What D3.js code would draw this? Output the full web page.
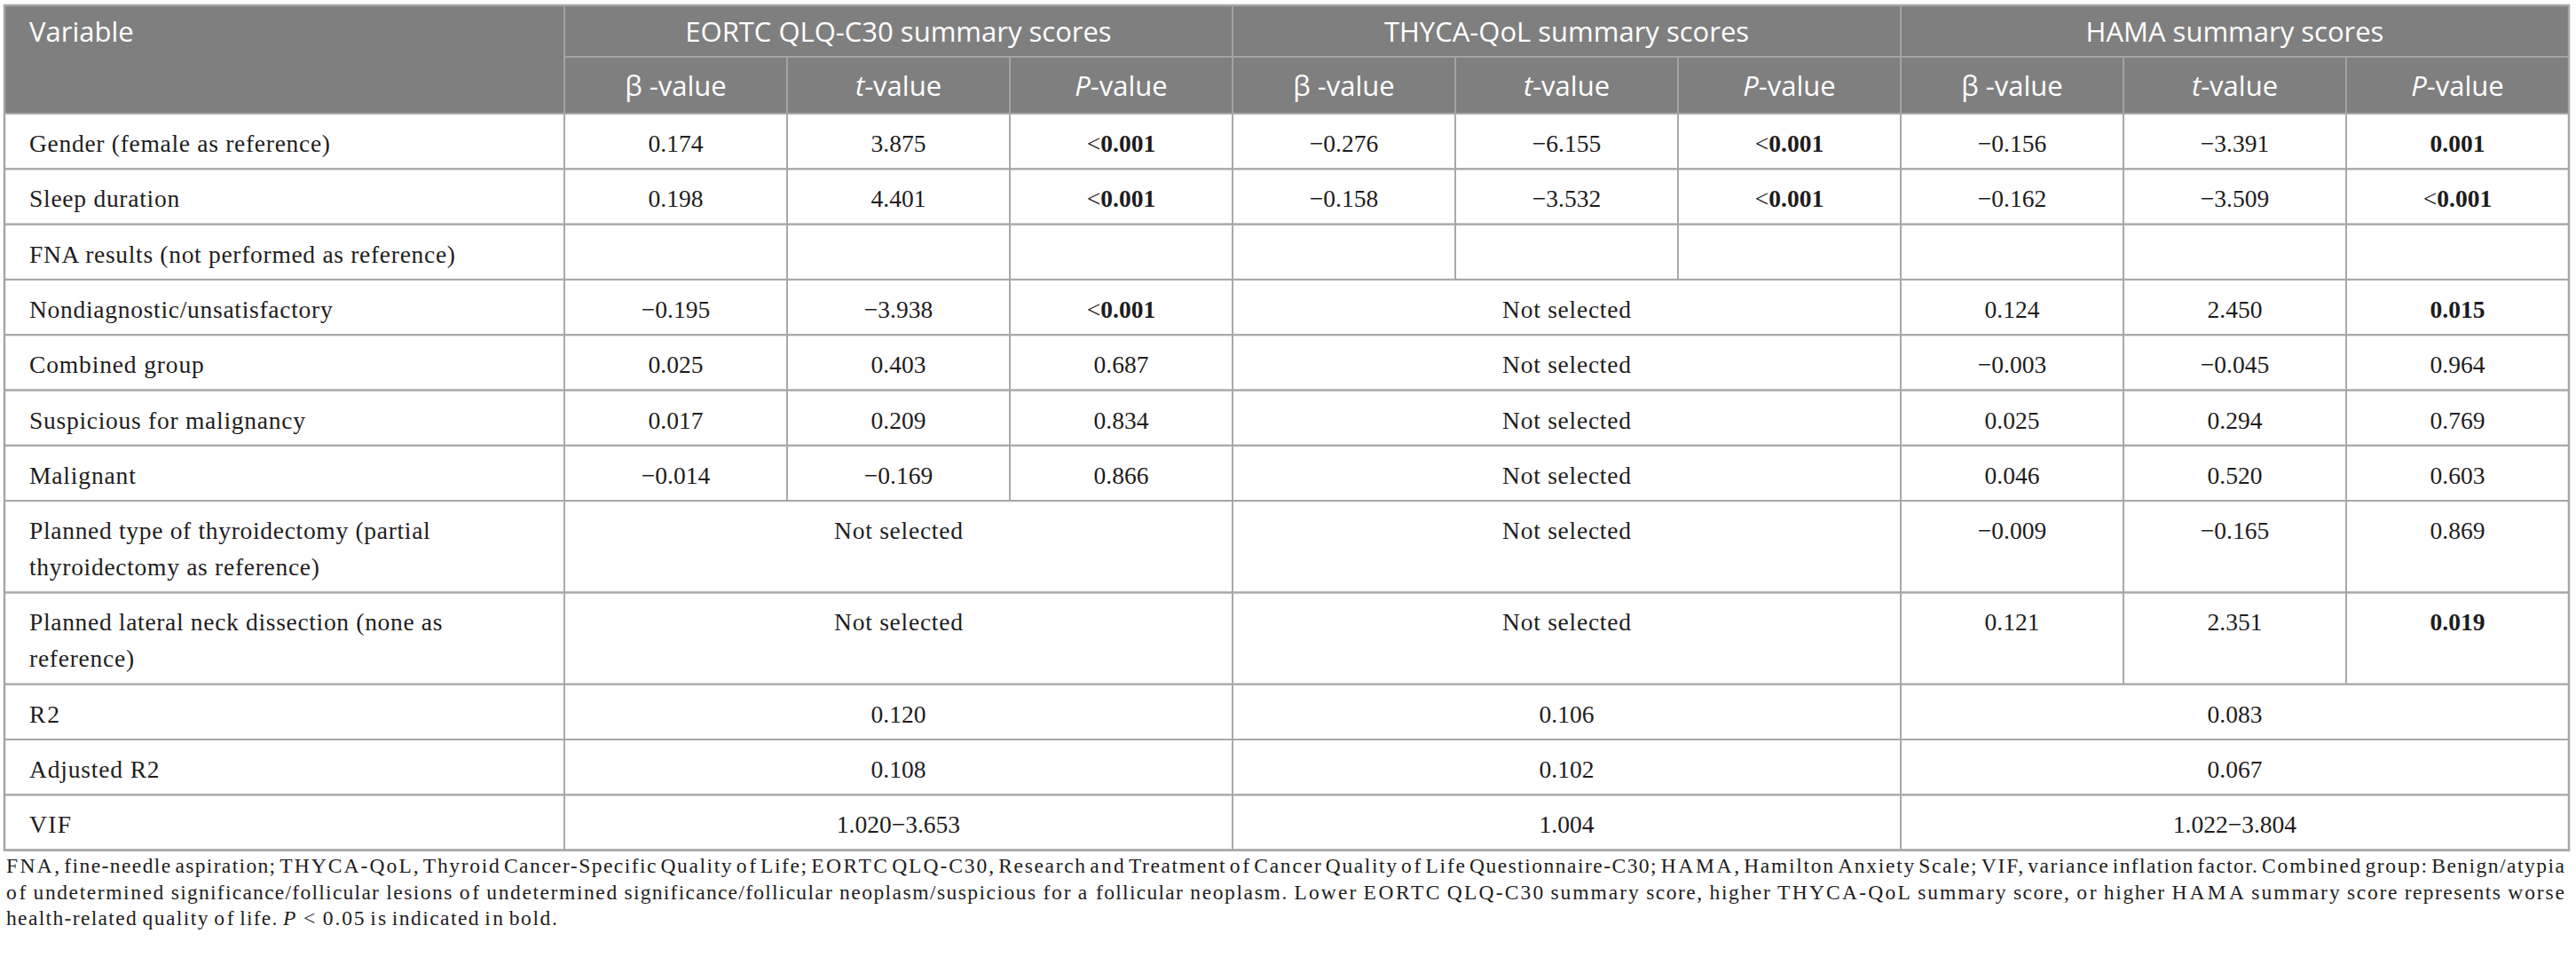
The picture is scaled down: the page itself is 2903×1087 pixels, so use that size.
<!DOCTYPE html>
<html>
<head>
<meta charset="utf-8">
<script src="https://cdn.jsdelivr.net/npm/d3@7"></script>
<style>
  body { margin: 0; background: #fff; }
  svg { display: block; }
</style>
</head>
<body>
<div id="chart"></div>
<script>
// ---- data ----
var groups = ["EORTC QLQ-C30 summary scores", "THYCA-QoL summary scores", "HAMA summary scores"];
// [italic prefix, rest]
var subHeads = [["", "\u03b2 -value"], ["t", "-value"], ["P", "-value"]];

var variables = [
  "Gender (female as reference)",
  "Sleep duration",
  "FNA results (not performed as reference)",
  "Nondiagnostic/unsatisfactory",
  "Combined group",
  "Suspicious for malignancy",
  "Malignant",
  "Planned type of thyroidectomy (partial\nthyroidectomy as reference)",
  "Planned lateral neck dissection (none as\nreference)",
  "R2",
  "Adjusted R2",
  "VIF"
];

// array = beta, t, P ; null = "Not selected" ; string = one value over the group
var eortc = [
  ["0.174", "3.875", "<0.001"],
  ["0.198", "4.401", "<0.001"],
  ["", "", ""],
  ["\u22120.195", "\u22123.938", "<0.001"],
  ["0.025", "0.403", "0.687"],
  ["0.017", "0.209", "0.834"],
  ["\u22120.014", "\u22120.169", "0.866"],
  null,
  null,
  "0.120",
  "0.108",
  "1.020\u22123.653"
];
var thyca = [
  ["\u22120.276", "\u22126.155", "<0.001"],
  ["\u22120.158", "\u22123.532", "<0.001"],
  ["", "", ""],
  null, null, null, null, null, null,
  "0.106",
  "0.102",
  "1.004"
];
var hama = [
  ["\u22120.156", "\u22123.391", "0.001"],
  ["\u22120.162", "\u22123.509", "<0.001"],
  ["", "", ""],
  ["0.124", "2.450", "0.015"],
  ["\u22120.003", "\u22120.045", "0.964"],
  ["0.025", "0.294", "0.769"],
  ["0.046", "0.520", "0.603"],
  ["\u22120.009", "\u22120.165", "0.869"],
  ["0.121", "2.351", "0.019"],
  "0.083",
  "0.067",
  "1.022\u22123.804"
];

var notSelected = "Not selected";
var captionLines = [
  "FNA, fine-needle aspiration; THYCA-QoL, Thyroid Cancer-Specific Quality of Life; EORTC QLQ-C30, Research and Treatment of Cancer Quality of Life Questionnaire-C30; HAMA, Hamilton Anxiety Scale; VIF, variance inflation factor. Combined group: Benign/atypia",
  "of undetermined significance/follicular lesions of undetermined significance/follicular neoplasm/suspicious for a follicular neoplasm. Lower EORTC QLQ-C30 summary score, higher THYCA-QoL summary score, or higher HAMA summary score represents worse",
  "health-related quality of life. *P* < 0.05 is indicated in bold."
];
var alpha = 0.05;

(function(){
  // ---- layout ----
  var W = 2903, H = 1087;
  var tLeft = 5, tRight = 2895, tTop = 6;
  var varColRight = 636;
  var head1 = 58, head2 = 64;
  var lineH = 41, rowBase = 62.3;
  var bodyFont = "Liberation Serif";
  var headFont = "Open Sans";
  var gridColor = "#a9a9a9";
  var ink = "#1e1c1d";
  var bodyWiden = 1.06;   // source face is a little wider than Times

  var svg = d3.select("#chart").append("svg")
    .attr("width", W).attr("height", H);

  function widen(sel, f) {
    sel.each(function(){
      var w = this.getComputedTextLength();
      if (w > 0) d3.select(this).attr("textLength", w * f).attr("lengthAdjust", "spacing");
    });
  }

  var x = d3.scaleBand().domain(d3.range(9)).range([varColRight, tRight]);
  var xg = d3.scaleBand().domain(d3.range(3)).range([varColRight, tRight]);

  var rowLines = variables.map(function(v){ return v.split("\n").length; });
  var rowH = rowLines.map(function(n){ return rowBase + (n - 1) * lineH; });
  var bodyTop = tTop + head1 + head2;
  var rowY = [bodyTop];
  rowH.forEach(function(h, i){ rowY.push(rowY[i] + h); });
  var bodyBottom = rowY[rowY.length - 1];

  // ---- header ----
  var hdr = svg.append("g");
  hdr.append("rect")
    .attr("x", tLeft).attr("y", tTop)
    .attr("width", tRight - tLeft).attr("height", head1 + head2)
    .attr("fill", "#7f7f7f");

  var hLine = "#a3a3a3";
  hdr.append("line")
    .attr("x1", varColRight).attr("x2", tRight)
    .attr("y1", tTop + head1).attr("y2", tTop + head1)
    .attr("stroke", hLine).attr("stroke-width", 2);
  hdr.selectAll("line.g").data([0, 1, 2]).enter().append("line")
    .attr("x1", function(d){ return xg(d); }).attr("x2", function(d){ return xg(d); })
    .attr("y1", tTop).attr("y2", bodyTop)
    .attr("stroke", hLine).attr("stroke-width", 2);
  hdr.selectAll("line.s").data(d3.range(9).filter(function(i){ return i % 3; })).enter().append("line")
    .attr("x1", function(d){ return x(d); }).attr("x2", function(d){ return x(d); })
    .attr("y1", tTop + head1).attr("y2", bodyTop)
    .attr("stroke", hLine).attr("stroke-width", 2);

  hdr.append("text")
    .attr("x", 33).attr("y", tTop + 41)
    .attr("font-family", headFont).attr("font-size", 31).attr("fill", "#fff")
    .text("Variable");

  hdr.selectAll("text.grp").data(groups).enter().append("text")
    .attr("x", function(d, i){ return xg(i) + xg.bandwidth() / 2; })
    .attr("y", tTop + 41)
    .attr("text-anchor", "middle")
    .attr("font-family", headFont).attr("font-size", 31).attr("fill", "#fff")
    .text(function(d){ return d; });

  var sub = hdr.selectAll("text.sub").data(d3.range(9)).enter().append("text")
    .attr("x", function(d){ return x(d) + x.bandwidth() / 2; })
    .attr("y", tTop + head1 + 44)
    .attr("text-anchor", "middle")
    .attr("font-family", headFont).attr("font-size", 31).attr("fill", "#fff");
  sub.append("tspan").attr("font-style", "italic").text(function(d){ return subHeads[d % 3][0]; });
  sub.append("tspan").text(function(d){ return subHeads[d % 3][1]; });

  // ---- body cells ----
  var cells = [];
  variables.forEach(function(v, r){
    cells.push({ r: r, x0: tLeft, x1: varColRight, label: v.split("\n"), align: "start" });
    [eortc, thyca, hama].forEach(function(series, g){
      var val = series[r];
      if (Array.isArray(val)) {
        val.forEach(function(s, k){
          cells.push({ r: r, x0: x(g * 3 + k), x1: x(g * 3 + k) + x.bandwidth(), label: [s], p: k === 2 });
        });
      } else {
        cells.push({ r: r, x0: xg(g), x1: xg(g) + xg.bandwidth(), label: [val === null ? notSelected : val] });
      }
    });
  });

  var body = svg.append("g");
  body.selectAll("rect.cell").data(cells).enter().append("rect")
    .attr("x", function(d){ return d.x0; })
    .attr("y", function(d){ return rowY[d.r]; })
    .attr("width", function(d){ return d.x1 - d.x0; })
    .attr("height", function(d){ return rowH[d.r]; })
    .attr("fill", "none").attr("stroke", gridColor).attr("stroke-width", 2);

  // one <text> per line so each can be widened on its own
  var lines = [];
  cells.forEach(function(d){
    d.label.forEach(function(s, i){ lines.push({ cell: d, s: s, i: i }); });
  });

  var txt = body.selectAll("text.cell").data(lines).enter().append("text")
    .attr("font-family", bodyFont).attr("font-size", 27.5).attr("fill", ink)
    .attr("text-anchor", function(d){ return d.cell.align === "start" ? "start" : "middle"; })
    .attr("x", function(d){ return d.cell.align === "start" ? d.cell.x0 + 28 : (d.cell.x0 + d.cell.x1) / 2; })
    .attr("y", function(d){ return rowY[d.cell.r] + 43 + d.i * lineH; });

  txt.each(function(d){
    var t = d3.select(this);
    if (d.cell.p && d.s) {
      var lt = d.s.charAt(0) === "<";
      var numStr = lt ? d.s.slice(1) : d.s;
      if (lt) t.append("tspan").text("<");
      var n = t.append("tspan").text(numStr);
      if (+numStr < alpha) n.attr("font-weight", "bold");
    } else {
      t.text(d.s);
    }
  });
  widen(txt.filter(function(d){ return d.cell.align === "start" || d.s === notSelected; }), bodyWiden);

  // outer border
  svg.append("rect")
    .attr("x", tLeft).attr("y", tTop)
    .attr("width", tRight - tLeft).attr("height", bodyBottom - tTop)
    .attr("fill", "none").attr("stroke", "#a6a6a6").attr("stroke-width", 2.5);

  // ---- caption: one <text> per word, first lines justified ----
  var capLeft = 7, capRight = 2890;
  var cap = svg.append("g")
    .attr("font-family", bodyFont).attr("font-size", 23.5).attr("fill", ink);

  function measure(s) {
    var t = cap.append("text").text(s);
    var w = t.node().getComputedTextLength();
    t.remove();
    return w;
  }
  var spaceW = measure("a a") - measure("aa");

  var capLines = captionLines.map(function(line, i){
    var words = line.split(" ").map(function(w){
      var it = /^\*.*\*$/.test(w);
      return { s: it ? w.slice(1, -1) : w, italic: it };
    });
    var wt = cap.selectAll("text.w" + i).data(words).enter().append("text")
      .attr("class", "w" + i)
      .attr("y", 983 + i * 29.5)
      .attr("font-style", function(d){ return d.italic ? "italic" : null; })
      .text(function(d){ return d.s; });
    var widths = [];
    wt.each(function(){ widths.push(this.getComputedTextLength()); });
    var natural = d3.sum(widths) + spaceW * (words.length - 1);
    return { wt: wt, widths: widths, natural: natural, n: words.length };
  });
  // widen the face so the justified lines fill with ordinary spaces
  var fit = d3.mean(capLines.slice(0, -1), function(l){ return (capRight - capLeft) / l.natural; });

  capLines.forEach(function(l, i){
    var last = i === capLines.length - 1;
    var widths = l.widths.map(function(w){ return w * fit; });
    var gap = last ? spaceW * fit : (capRight - capLeft - d3.sum(widths)) / (l.n - 1);
    var cx = capLeft;
    l.wt.each(function(d, k){
      d3.select(this).attr("x", cx)
        .attr("textLength", widths[k]).attr("lengthAdjust", "spacing");
      cx += widths[k] + gap;
    });
  });
})();
</script>
</body>
</html>
